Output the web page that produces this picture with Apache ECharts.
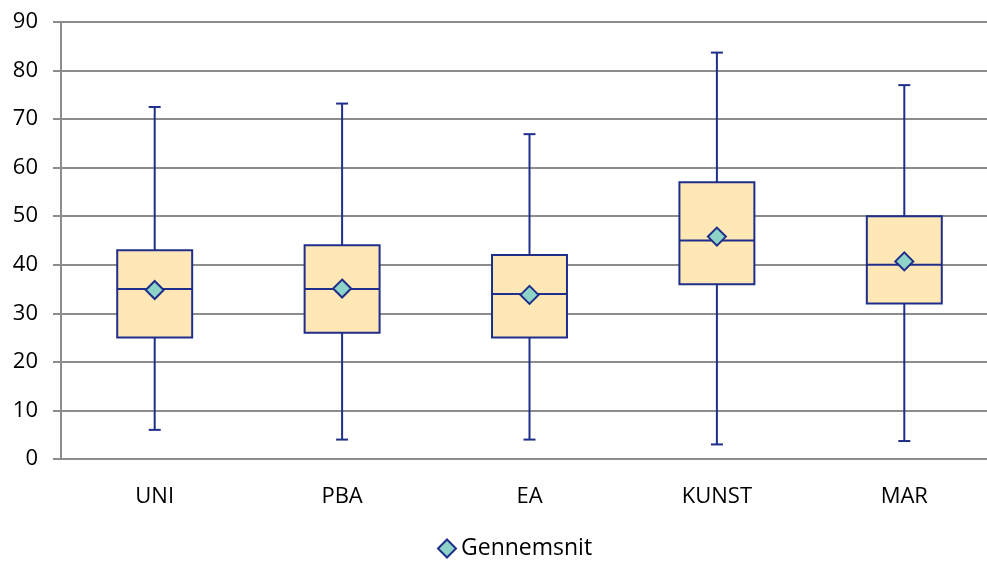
<!DOCTYPE html>
<html>
<head>
<meta charset="utf-8">
<script src="https://cdn.jsdelivr.net/npm/echarts@6/dist/echarts.min.js"></script>
<style>
  html, body { margin: 0; padding: 0; background: #fff; }
  #chart { width: 987px; height: 563px; }
</style>
</head>
<body>
<div id="chart"></div>
<script>
// Groups along the x axis
const categories = ['UNI', 'PBA', 'EA', 'KUNST', 'MAR'];
// Five-number summaries per group
const minValues    = [6.0, 4.0, 4.0, 3.0, 3.7];
const q1Values     = [25, 26, 25, 36, 32];
const medianValues = [35, 35, 34, 45, 40];
const q3Values     = [43, 44, 42, 57, 50];
const maxValues    = [72.5, 73.2, 66.9, 83.7, 77.0];
// Group means (shown as diamonds)
const meanValues   = [34.8, 35.1, 33.8, 45.8, 40.7];
// Y axis ticks
const yTicks = { min: 0, max: 90, interval: 10 };

const NAVY = '#1F2E8A';
const BOX_FILL = '#FFE7B6';
const GRID_GRAY = '#8C8C8C';
const FONT = '"Open Sans", "Noto Sans", sans-serif';
const FS = 22;

const boxData = categories.map((c, i) =>
  [i, minValues[i], q1Values[i], medianValues[i], q3Values[i], maxValues[i]]);

function renderBox(params, api) {
  const i = api.value(0);
  const pMin = api.coord([i, api.value(1)]);
  const pQ1  = api.coord([i, api.value(2)]);
  const pMed = api.coord([i, api.value(3)]);
  const pQ3  = api.coord([i, api.value(4)]);
  const pMax = api.coord([i, api.value(5)]);
  const cx = pMin[0];
  const bw = api.size([1, 0])[0] * 0.4;
  const cap = 12;
  const ls = { stroke: NAVY, lineWidth: 2 };
  return {
    type: 'group',
    children: [
      { type: 'line', shape: { x1: cx, y1: pQ3[1], x2: cx, y2: pMax[1] }, style: ls },
      { type: 'line', shape: { x1: cx, y1: pMin[1], x2: cx, y2: pQ1[1] }, style: ls },
      { type: 'line', shape: { x1: cx - cap / 2, y1: pMax[1], x2: cx + cap / 2, y2: pMax[1] }, style: ls },
      { type: 'line', shape: { x1: cx - cap / 2, y1: pMin[1], x2: cx + cap / 2, y2: pMin[1] }, style: ls },
      { type: 'rect', shape: { x: cx - bw / 2, y: pQ3[1], width: bw, height: pQ1[1] - pQ3[1] },
        style: { fill: BOX_FILL, stroke: NAVY, lineWidth: 2 } },
      { type: 'line', shape: { x1: cx - bw / 2, y1: pMed[1], x2: cx + bw / 2, y2: pMed[1] }, style: ls }
    ]
  };
}

const chart = echarts.init(document.getElementById('chart'), null, { renderer: 'canvas' });
chart.setOption({
  animation: false,
  textStyle: { fontFamily: FONT },
  grid: { left: 61, top: 22, bottom: 104, right: -11, containLabel: false, outerBoundsMode: 'none' },
  legend: {
    bottom: -2,
    left: 432,
    itemWidth: 18,
    itemHeight: 18,
    itemGap: 4,
    data: [{ name: 'Gennemsnit', icon: 'diamond' }],
    textStyle: { fontSize: 23, color: '#000', fontFamily: FONT, padding: [0, 0, 0, 0] }
  },
  xAxis: {
    type: 'category',
    data: categories,
    axisLine: { lineStyle: { color: GRID_GRAY, width: 2 } },
    axisTick: { show: false },
    axisLabel: { fontSize: FS, color: '#000', margin: 27, fontFamily: FONT }
  },
  yAxis: {
    type: 'value',
    min: yTicks.min,
    max: yTicks.max,
    interval: yTicks.interval,
    axisLine: { show: true, lineStyle: { color: GRID_GRAY, width: 2 } },
    axisTick: { show: true, length: 8, lineStyle: { color: GRID_GRAY, width: 2 } },
    axisLabel: { fontSize: FS, color: '#000', margin: 23, fontFamily: FONT },
    splitLine: { lineStyle: { color: GRID_GRAY, width: 2 } }
  },
  series: [
    {
      name: 'Boks',
      type: 'custom',
      renderItem: renderBox,
      encode: { x: 0, y: [1, 2, 3, 4, 5] },
      data: boxData,
      z: 2
    },
    {
      name: 'Gennemsnit',
      type: 'scatter',
      symbol: 'diamond',
      symbolSize: 18,
      data: meanValues.map((v, i) => [i, v]),
      itemStyle: { color: '#8DD3C7', borderColor: NAVY, borderWidth: 2, opacity: 1 },
      z: 3
    }
  ]
});
</script>
</body>
</html>
